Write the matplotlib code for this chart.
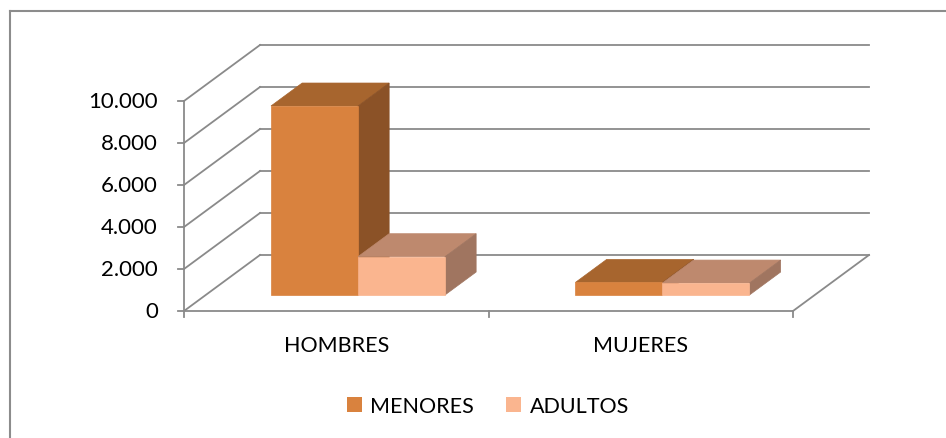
import matplotlib
matplotlib.use("Agg")
import matplotlib.pyplot as plt
from matplotlib.patches import Polygon, Rectangle, Patch
from matplotlib.lines import Line2D

plt.rcParams['font.family'] = ['Lato', 'DejaVu Sans']

# datos
categorias = ['HOMBRES', 'MUJERES']
menores = [9000, 600]
adultos = [1825, 570]
series = ['MENORES', 'ADULTOS']
ticks = [0, 2000, 4000, 6000, 8000, 10000]
tick_labels = ['0', '2.000', '4.000', '6.000', '8.000', '10.000']

# colores (frente, arriba, lado)
col_menores = ('#D9823E', '#A7652E', '#8B5227')
col_adultos = ('#FAB58F', '#BE896E', '#A07560')
gris = '#8A8A8A'

W, H = 946, 439
fig = plt.figure(figsize=(W / 100, H / 100), dpi=100)
ax = fig.add_axes([0, 0, 1, 1])

# escala: pixeles -> datos
px_cat = 304.5          # pixeles por categoria
px_val = 0.021          # pixeles por unidad
x0_px, y0_px = 184, 312
ax.set_xlim(-x0_px / px_cat, (W - x0_px) / px_cat)
ax.set_ylim((y0_px - H) / px_val, y0_px / px_val)
ax.axis('off')

# profundidad oblicua
DX = 76 / px_cat
DY = 56 / px_val
n = len(categorias)

# paredes y rejilla
for v, lab in zip(ticks, tick_labels):
    ax.plot([DX, n + DX], [v + DY, v + DY], color=gris, lw=1.3, zorder=1)
    ax.plot([0, DX], [v, v + DY], color=gris, lw=1.3, zorder=1)
    ax.plot([-6 / px_cat, 0], [v, v], color=gris, lw=1.3, zorder=1)
    ax.text(-26 / px_cat, v, lab, ha='right', va='center', fontsize=16, color='#000000')
ax.plot([0, 0], [0, ticks[-1]], color=gris, lw=1.3, zorder=1)
ax.plot([0, n], [0, 0], color=gris, lw=1.3, zorder=1)
ax.plot([n, n + DX], [0, DY], color=gris, lw=1.3, zorder=1)
for c in range(n + 1):
    ax.plot([c, c], [0, -6 / px_val], color=gris, lw=1.3, zorder=1)
for i, cat in enumerate(categorias):
    ax.text(i + 0.5, -34 / px_val, cat, ha='center', va='center', fontsize=15.5)


def caja(x, w, h, cols, d0=0.286, d1=0.696):
    fx, fy = DX * d0, DY * d0
    bx, by = DX * d1, DY * d1
    top = Polygon([(x + fx, h + fy), (x + w + fx, h + fy), (x + w + bx, h + by), (x + bx, h + by)],
                  closed=True, facecolor=cols[1], edgecolor=cols[1], lw=0.5, zorder=3)
    lado = Polygon([(x + w + fx, fy), (x + w + bx, by), (x + w + bx, h + by), (x + w + fx, h + fy)],
                   closed=True, facecolor=cols[2], edgecolor=cols[2], lw=0.5, zorder=3)
    frente = Rectangle((x + fx, fy), w, h, facecolor=cols[0], edgecolor=cols[0], lw=0.5, zorder=3)
    for p in (top, lado, frente):
        ax.add_patch(p)


ancho = 1 / 3.5
for i in range(n):
    inicio = i + (1 - 2 * ancho) / 2
    caja(inicio, ancho, menores[i], col_menores)
    caja(inicio + ancho, ancho, adultos[i], col_adultos)

handles = [Patch(facecolor=col_menores[0]), Patch(facecolor=col_adultos[0])]
fig.legend(handles, series, loc='center', bbox_to_anchor=(488 / W, 1 - 407 / H), ncol=2,
           frameon=False, fontsize=15.5, handlelength=0.7, handleheight=0.7,
           handletextpad=0.4, columnspacing=1.5)

# borde del grafico
fig.add_artist(Line2D([9.5 / W, 9.5 / W], [0, 1 - 12 / H], color='#8C8C8C', lw=1.5))
fig.add_artist(Line2D([9.5 / W, 1], [1 - 12 / H, 1 - 12 / H], color='#8C8C8C', lw=1.5))

fig.savefig('out.png', dpi=100)
